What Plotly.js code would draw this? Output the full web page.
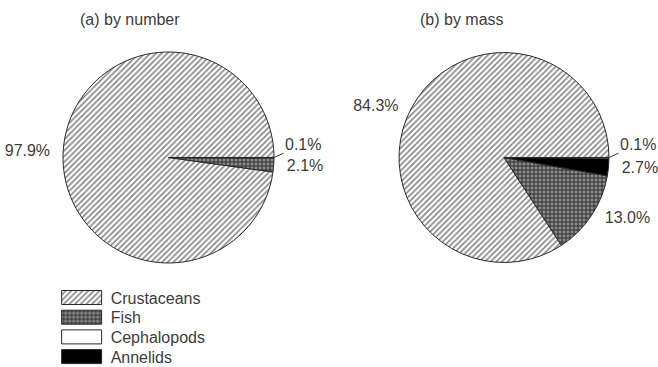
<!DOCTYPE html>
<html>
<head>
<meta charset="utf-8">
<script src="https://cdn.plot.ly/plotly-3.0.1.min.js"></script>
<style>
  html, body { margin: 0; padding: 0; background: #fff; }
  #chart { width: 658px; height: 367px; }
</style>
</head>
<body>
<div id="chart"></div>
<script>
// Diet composition of the predator, shares in percent
const categories = ['Crustaceans', 'Fish', 'Cephalopods', 'Annelids'];
const byNumber = [97.9, 2.1, 0.1, 0];
const byMass = [84.3, 13.0, 0.1, 2.7];
const panelTitles = ['(a) by number', '(b) by mass'];

const textColor = '#3c3c3c';
const fontFamily = 'Liberation Sans, Arial, sans-serif';
const calloutBelow = 0.5;   // slices thinner than this get a callout label
const pad = '\u00a0\u00a0'; // breathing room between pie rim and labels

// fill style per category: hatched, dense grid, open, solid
const patterns = {
  shape: ['/', '+', '', ''],
  fgcolor: ['#858585', '#222222', '#000', '#000'],
  bgcolor: ['#ffffff', '#8c8c8c', '#ffffff', '#000000'],
  size: [4, 4, 4, 4],
  solidity: [0.4, 0.4, 0.3, 0.3],
  fillmode: 'replace'
};
const sliceColors = ['#ffffff', '#8c8c8c', '#ffffff', '#000000'];

const domains = [
  { x: [0.0957, 0.4164], y: [0.2834, 0.8583] },
  { x: [0.6064, 0.9255], y: [0.2834, 0.8583] }
];

const sum = values => values.reduce((a, b) => a + b, 0);

// Slices run counter-clockwise, largest first, and close at 3 o'clock.
// Plotly's counter-clockwise layout anchors the first slice's far edge at
// `rotation`, so offset it by that slice's angle.
function closingRotation(values) {
  return 90 - 360 * Math.max(...values) / sum(values);
}

// true where a slice's mid-angle lies on the right half of the pie
function onRightSide(values) {
  const total = sum(values);
  const order = values.map((v, i) => i).sort((a, b) => values[b] - values[a]);
  const right = new Array(values.length);
  let cum = 0;
  order.forEach(i => {
    const mid = (cum + values[i] / 2) / total * 2 * Math.PI;
    right[i] = Math.cos(mid) >= 0;
    cum += values[i];
  });
  return right;
}

function pieTrace(values, domain) {
  const right = onRightSide(values);
  return {
    type: 'pie',
    labels: categories,
    values: values,
    domain: domain,
    rotation: closingRotation(values),
    direction: 'counterclockwise',
    sort: true,
    textposition: values.map(v => (v >= calloutBelow ? 'outside' : 'none')),
    texttemplate: values.map((v, i) => {
      if (v < calloutBelow) return '';
      return right[i] ? pad + '%{value:.1f}%' : '%{value:.1f}%' + pad;
    }),
    outsidetextfont: { family: fontFamily, size: 16, color: textColor },
    hoverinfo: 'label+value',
    marker: {
      colors: sliceColors,
      line: { color: '#2a2a2a', width: 1 },
      pattern: patterns
    },
    automargin: false
  };
}

// callouts for the hairline slices, which sit at the 3 o'clock closing edge
function callouts(values, domain) {
  return values
    .filter(v => v > 0 && v < calloutBelow)
    .map(v => ({
      text: v.toFixed(1) + '%',
      xref: 'paper', yref: 'paper',
      x: domain.x[1], y: (domain.y[0] + domain.y[1]) / 2,
      ax: 29, ay: -13,
      showarrow: true, arrowhead: 0, arrowwidth: 1, arrowcolor: textColor,
      standoff: 0,
      font: { family: fontFamily, size: 16, color: textColor }
    }));
}

const data = [
  pieTrace(byNumber, domains[0]),
  pieTrace(byMass, domains[1])
];

const layout = {
  width: 658,
  height: 367,
  margin: { l: 0, r: 0, t: 0, b: 0 },
  paper_bgcolor: '#ffffff',
  font: { family: fontFamily, size: 16, color: textColor },
  showlegend: true,
  legend: {
    x: 0.08, y: 0, xanchor: 'left', yanchor: 'bottom',
    itemwidth: 48,
    font: { family: fontFamily, size: 16, color: textColor },
    bgcolor: 'rgba(0,0,0,0)'
  },
  annotations: [
    { text: panelTitles[0], x: 0.1976, y: 0.948, xref: 'paper', yref: 'paper',
      xanchor: 'center', yanchor: 'middle', showarrow: false,
      font: { family: fontFamily, size: 16, color: textColor } },
    { text: panelTitles[1], x: 0.702, y: 0.948, xref: 'paper', yref: 'paper',
      xanchor: 'center', yanchor: 'middle', showarrow: false,
      font: { family: fontFamily, size: 16, color: textColor } },
    ...callouts(byNumber, domains[0]),
    ...callouts(byMass, domains[1])
  ]
};

function parseTranslate(el) {
  const m = /translate\(\s*([-\d.e]+)[ ,]+([-\d.e]+)\s*\)/.exec(el.getAttribute('transform') || '');
  return m ? [parseFloat(m[1]), parseFloat(m[2])] : [0, 0];
}

Plotly.newPlot('chart', data, layout, { staticPlot: true, displayModeBar: false }).then(gd => {
  const legend = gd.querySelector('.legend');
  if (!legend) return;
  legend.removeAttribute('clip-path');
  legend.querySelectorAll('[clip-path]').forEach(n => n.removeAttribute('clip-path'));

  // wide 40x14 swatches
  legend.querySelectorAll('.legendpoints path.legendpie').forEach(p => {
    p.setAttribute('d', 'M20,7H-20V-7H20Z');
  });

  // tighter row pitch
  const rows = Array.from(legend.querySelectorAll('.traces'));
  const pitch = 19.7;
  if (rows.length) {
    const [, y0] = parseTranslate(rows[0]);
    rows.forEach((g, i) => {
      const [x] = parseTranslate(g);
      g.setAttribute('transform', `translate(${x},${y0 + i * pitch})`);
    });
    // first swatch centred at y = 297.5
    const sw = rows[0].querySelector('path.legendpie');
    const r = sw.getBoundingClientRect();
    const dy = 297.5 - (r.top + r.height / 2);
    const [lx, ly] = parseTranslate(legend);
    legend.setAttribute('transform', `translate(${lx},${ly + dy})`);
  }
});
</script>
</body>
</html>
